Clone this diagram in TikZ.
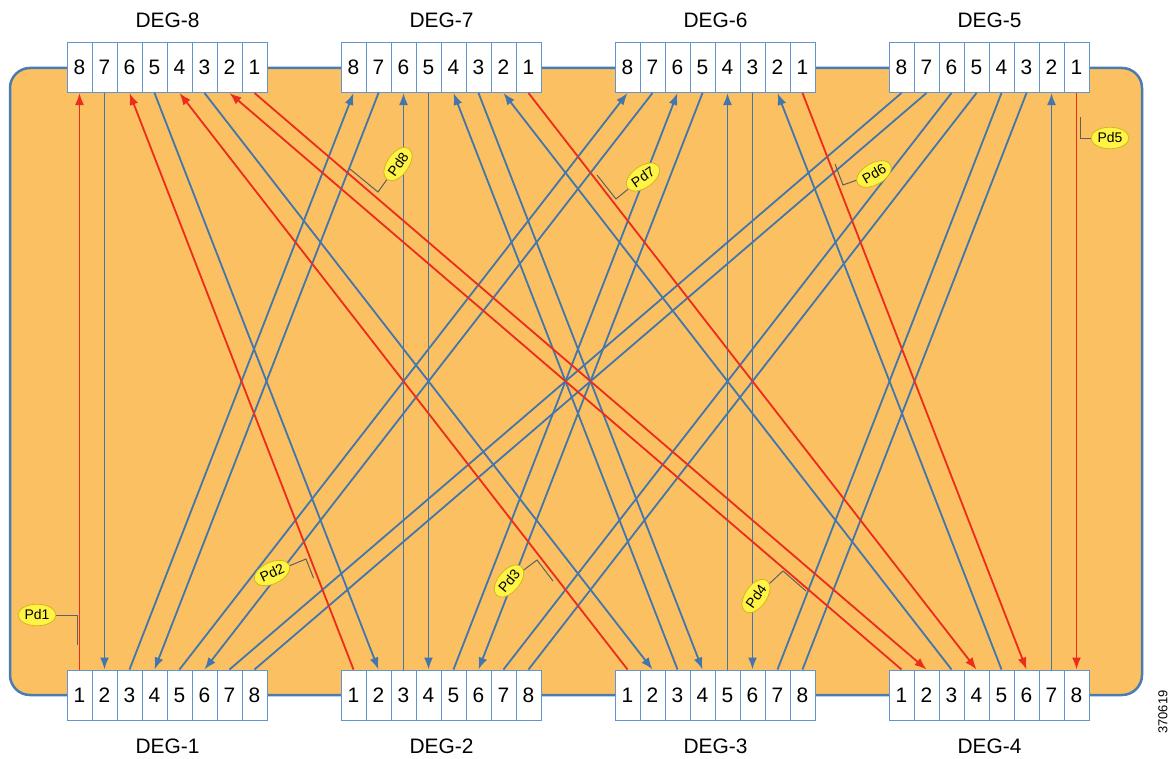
\documentclass[tikz,border=0pt]{standalone}
\usepackage{fontspec}
\setmainfont{Liberation Sans}
\usetikzlibrary{arrows.meta,positioning,shapes.geometric}
\definecolor{panel}{RGB}{250,192,98}
\definecolor{panelrim}{RGB}{72,124,178}
\definecolor{portrim}{RGB}{98,148,208}
\definecolor{linkblue}{RGB}{66,118,172}
\definecolor{pdred}{RGB}{236,44,28}
\definecolor{tagfill}{RGB}{255,244,70}
\definecolor{tagrim}{RGB}{214,182,30}
\definecolor{leadgray}{RGB}{96,96,96}
\tikzstyle{port}=[rectangle,draw=portrim,fill=white,line width=1bp,minimum width=25bp,minimum height=50bp,inner sep=0pt,font=\fontsize{21}{21}\selectfont]
\tikzstyle{deg}=[inner sep=3bp,font=\fontsize{21}{21}\selectfont]
\tikzstyle{link}=[draw=linkblue,line width=1.8bp,>={Latex[length=12bp,width=9bp]}]
\tikzstyle{pd}=[link,draw=pdred]
\tikzstyle{pdtag}=[ellipse,draw=tagrim,fill=tagfill,line width=0.8bp,inner xsep=1bp,inner ysep=2.5bp,font=\fontsize{14}{14}\selectfont]
\tikzstyle{lead}=[draw=leadgray,line width=1bp]

\begin{document}
\begin{tikzpicture}[x=1bp,y=-1bp]
  \fill[white] (0,0) rectangle (1176,759);
  \useasboundingbox (0,0) rectangle (1176,759);
  \draw[panelrim,fill=panel,line width=2.5bp,rounded corners=20bp] (10,68) rectangle (1142,695);

  % top degrees, ports numbered right to left
  \foreach \d/\l in {8/67,7/341,6/615,5/889}
    \foreach \p in {1,...,8}
      \node[port] (t\d-\p) at ({\l+12.5+25*(8-\p)},67.5) {\p};
  % bottom degrees
  \foreach \d/\l in {1/67,2/341,3/615,4/889}
    \foreach \p in {1,...,8}
      \node[port] (b\d-\p) at ({\l+12.5+25*(\p-1)},695) {\p};

  \node[deg] (L8) [above=11bp of t8-5.north east] {DEG-8};
  \node[deg] (L7) [above=11bp of t7-5.north east] {DEG-7};
  \node[deg] (L6) [above=11bp of t6-5.north east] {DEG-6};
  \node[deg] (L5) [above=11bp of t5-5.north east] {DEG-5};
  \node[deg] (L1) [below=15bp of b1-4.south east] {DEG-1};
  \node[deg] (L2) [below=15bp of b2-4.south east] {DEG-2};
  \node[deg] (L3) [below=15bp of b3-4.south east] {DEG-3};
  \node[deg] (L4) [below=15bp of b4-4.south east] {DEG-4};

  % blue links, bottom to top (tip at the top port)
  \foreach \a/\b in {b4-5/t6-2,b4-3/t7-2,b1-3/t7-8,b1-5/t6-8,b2-5/t6-6,b3-3/t7-4}
    \draw[link,->] (\a.north) -- (\b.south);
  \foreach \a/\b in {b4-7/t5-2,b2-3/t7-6,b3-5/t6-4}
    \draw[link,->] (\a.north) -- (\a.north |- \b.south);
  % blue links, top to bottom
  \foreach \a/\b in {t8-7/b1-2,t8-5/b2-2,t8-3/b3-2,t7-7/b1-4,t6-7/b1-6,t7-5/b2-4,t6-5/b2-6,t7-3/b3-4,t6-3/b3-6}
    \draw[link,->] (\a.south) -- (\b.north);
  % DEG-5 links, no tips
  \foreach \a/\b in {t5-8/b1-7,t5-7/b1-8,t5-6/b2-7,t5-5/b2-8,t5-4/b3-7,t5-3/b3-8}
    \draw[link] (\a.south) -- (\b.north);

  % red pass-through links
  \draw[pd,->] (b1-1.north) -- (b1-1.north |- t8-8.south);
  \foreach \a/\b in {b2-1/t8-6,b3-1/t8-4,b4-1/t8-2}
    \draw[pd,->] (\a.north) -- (\b.south);
  \foreach \a/\b in {t5-1/b4-8,t6-1/b4-6,t7-1/b4-4,t8-1/b4-2}
    \draw[pd,->] (\a.south) -- (\b.north);

  % Pd tags
  \node[pdtag] (pd1) at (37,615) {Pd1};
  \node[pdtag,rotate=25] (pd2) at (272,573) {Pd2};
  \node[pdtag,rotate=50] (pd3) at (509,581) {Pd3};
  \node[pdtag,rotate=55] (pd4) at (756,596) {Pd4};
  \node[pdtag] (pd5) at (1110,138) {Pd5};
  \node[pdtag,rotate=30] (pd6) at (874,174) {Pd6};
  \node[pdtag,rotate=35] (pd7) at (643,177) {Pd7};
  \node[pdtag,rotate=55] (pd8) at (398,164) {Pd8};

  \coordinate (pd1a) at (77,615);   \coordinate (pd1b) at (77,645);
  \coordinate (pd2a) at (306,559);  \coordinate (pd2b) at (313.5,578);
  \coordinate (pd3a) at (537,560);  \coordinate (pd3b) at (553,581);
  \coordinate (pd4a) at (783,571);  \coordinate (pd4b) at (806,591);
  \coordinate (pd5a) at (1080,138); \coordinate (pd5b) at (1080,117);
  \coordinate (pd6a) at (843,185);  \coordinate (pd6b) at (835,164);
  \coordinate (pd7a) at (616,199);  \coordinate (pd7b) at (597,175);
  \coordinate (pd8a) at (378,192);  \coordinate (pd8b) at (350,169);
  \foreach \i in {1,...,8}
    \draw[lead] (pd\i) -- (pd\i a) -- (pd\i b);

  \node[rotate=90,font=\fontsize{13}{13}\selectfont] (fignum) at (1163,712) {370619};
\end{tikzpicture}
\end{document}
